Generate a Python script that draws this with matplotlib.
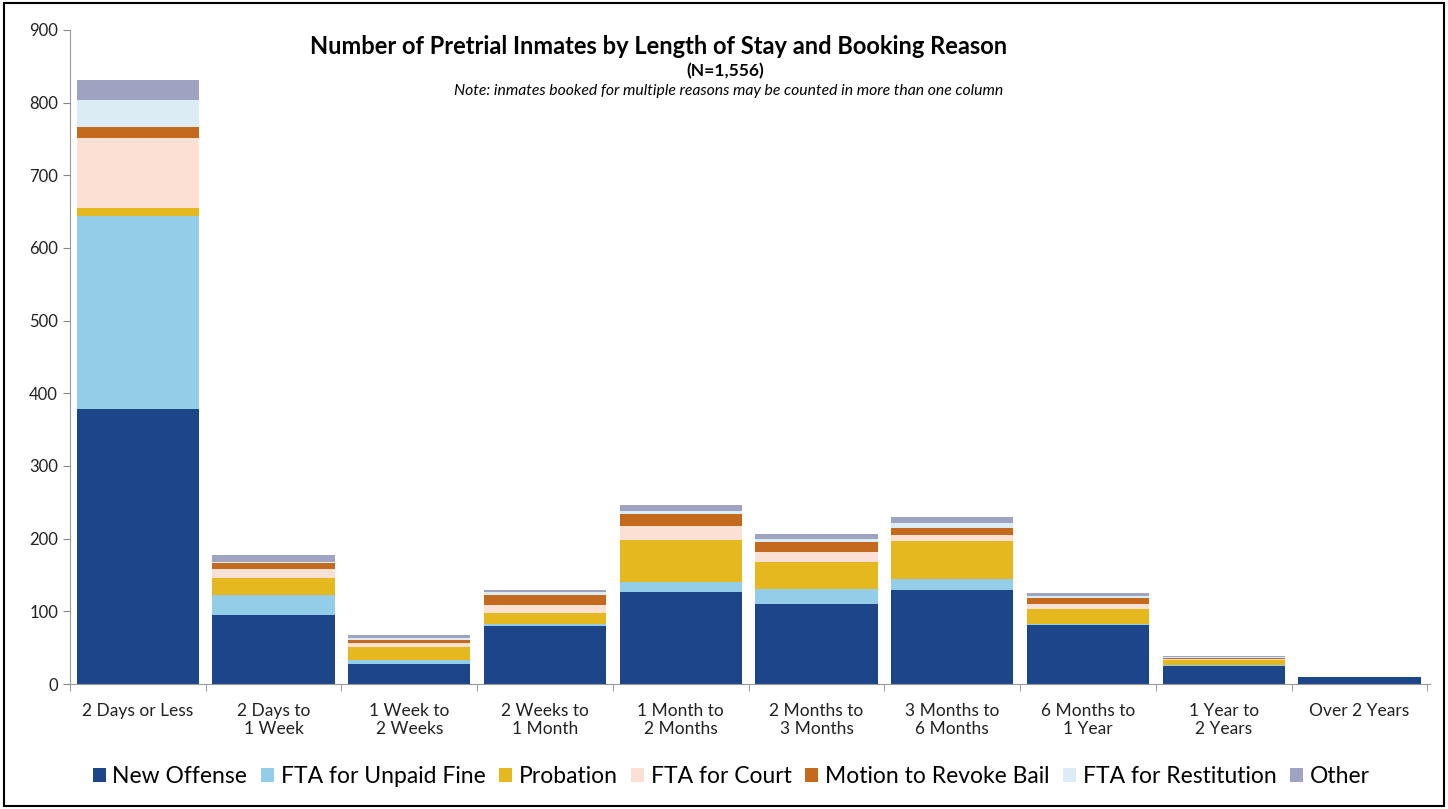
import matplotlib.pyplot as plt
import matplotlib.patches as mpatches
import numpy as np

plt.rcParams['font.family'] = ['Lato', 'DejaVu Sans']

## Length of stay categories
stays = ['2 Days or Less', '2 Days to\n1 Week', '1 Week to\n2 Weeks', '2 Weeks to\n1 Month',
         '1 Month to\n2 Months', '2 Months to\n3 Months', '3 Months to\n6 Months',
         '6 Months to\n1 Year', '1 Year to\n2 Years', 'Over 2 Years']

## Counts by booking reason
new_offense = [378, 95, 28, 80, 126, 110, 130, 81, 25, 9]
unpaid_fine = [266, 28, 5, 3, 15, 21, 15, 2, 1, 0]
probation = [11, 23, 18, 15, 57, 37, 52, 20, 7, 0]
fta_court = [96, 12, 6, 11, 20, 13, 8, 7, 2, 0]
revoke_bail = [16, 8, 4, 13, 16, 15, 10, 9, 1, 0]
restitution = [37, 2, 2, 4, 4, 4, 7, 2, 1, 0]
other = [27, 10, 4, 3, 8, 7, 8, 4, 2, 1]

reasons = ['New Offense', 'FTA for Unpaid Fine', 'Probation', 'FTA for Court',
           'Motion to Revoke Bail', 'FTA for Restitution', 'Other']
series = [new_offense, unpaid_fine, probation, fta_court, revoke_bail, restitution, other]
colors = ['#1d4688', '#93cde8', '#e6b820', '#fbe0d3', '#c46a1e', '#dcecf5', '#9da3c0']

fig = plt.figure(figsize=(14.48, 8.09), dpi=100)
ax = fig.add_axes([0.0483, 0.1545, 0.9393, 0.8085])

x = np.arange(len(stays))
bottom = np.zeros(len(stays))
for name, vals, col in zip(reasons, series, colors):
    ax.bar(x, vals, width=0.9, bottom=bottom, color=col, label=name, linewidth=0)
    bottom += np.array(vals)

ax.set_xlim(-0.5, len(stays) - 0.48)
ax.set_ylim(0, 900)
ax.set_yticks(range(0, 901, 100))
ax.tick_params(axis='y', labelsize=12, length=5, color='#888888', labelcolor='#222222')
ax.set_xticks(x)
ax.set_xticklabels(stays, fontsize=12.5, linespacing=1.1, color='#222222')
ax.tick_params(axis='x', which='major', length=0, pad=14)
ax.set_xticks(np.arange(-0.5, len(stays)), minor=True)
ax.tick_params(axis='x', which='minor', length=5, color='#888888')
for s in ['top', 'right']:
    ax.spines[s].set_visible(False)
for s in ['left', 'bottom']:
    ax.spines[s].set_color('#999999')

fig.text(0.455, 0.943, 'Number of Pretrial Inmates by Length of Stay and Booking Reason',
         ha='center', va='center', fontsize=17, fontweight='bold')
fig.text(0.501, 0.912, '(N=1,556)', ha='center', va='center', fontsize=12.5, fontweight='bold')
fig.text(0.503, 0.888, 'Note: inmates booked for multiple reasons may be counted in more than one column',
         ha='center', va='center', fontsize=11.3, style='italic')

fig.legend(loc='center', bbox_to_anchor=(0.505, 0.04), ncol=7, frameon=False, fontsize=16.5,
           handlelength=0.55, handleheight=0.55, handletextpad=0.3, columnspacing=0.6)

fig.add_artist(mpatches.Rectangle((0.003, 0.004), 0.994, 0.992, transform=fig.transFigure,
                                  fill=False, edgecolor='black', linewidth=1.5))

plt.savefig('out.png', dpi=100)
